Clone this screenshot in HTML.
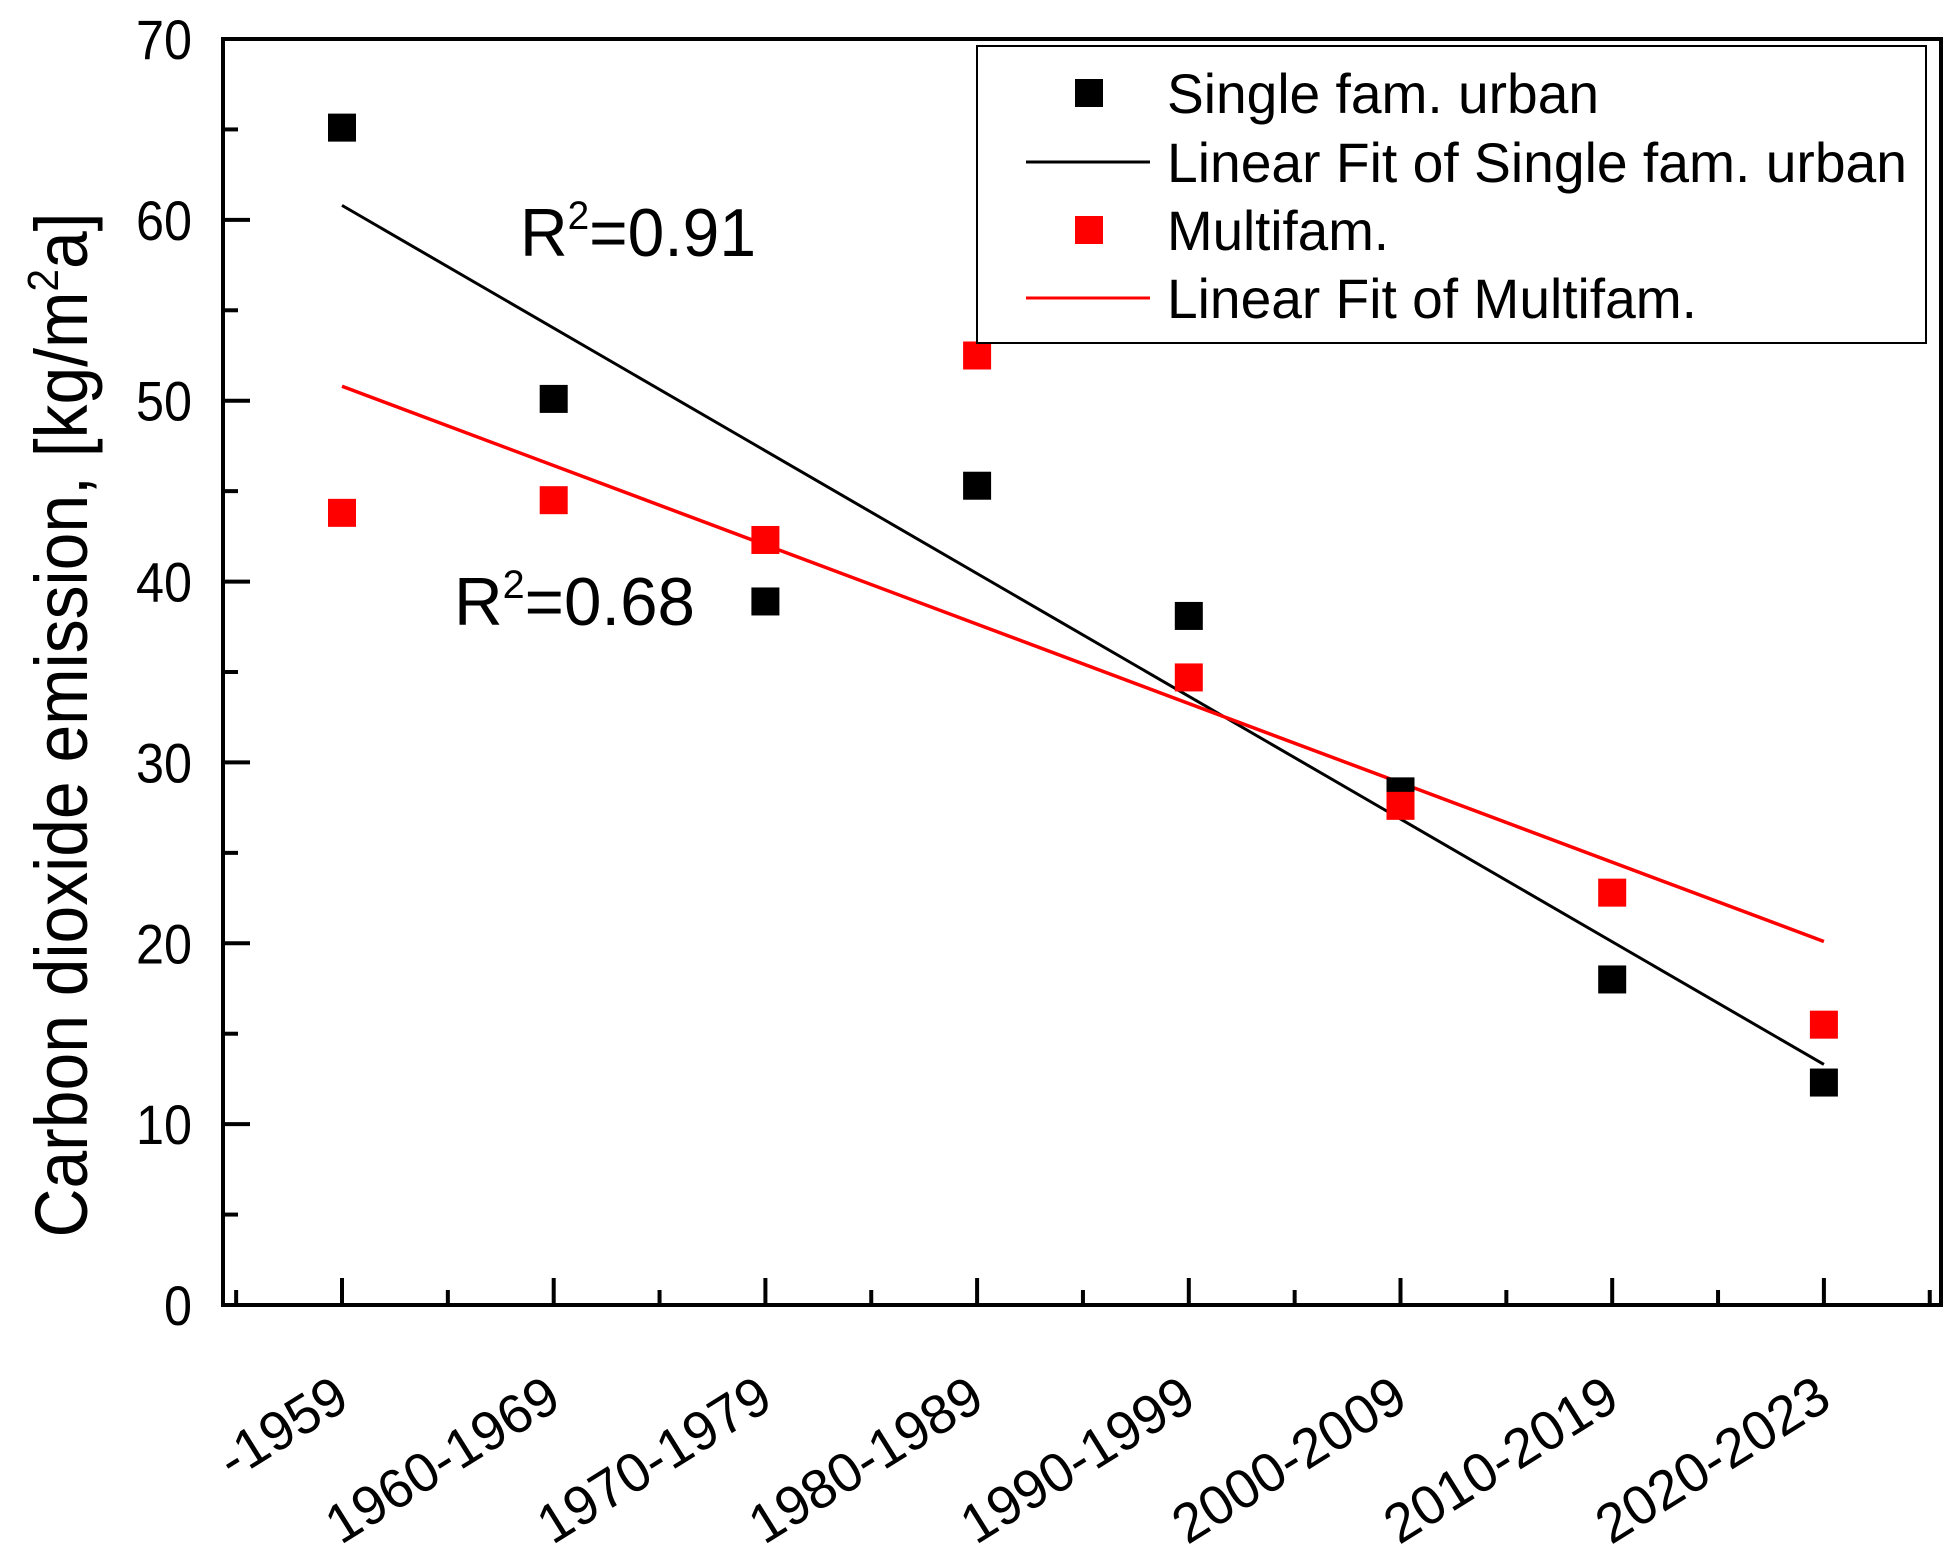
<!DOCTYPE html>
<html><head><meta charset="utf-8"><style>
html,body{margin:0;padding:0;background:#fff;}
svg{display:block;font-family:"Liberation Sans",Arial,sans-serif;}
</style></head><body>
<svg id="chart" width="1960" height="1551" viewBox="0 0 1960 1551" xmlns="http://www.w3.org/2000/svg">
<g id="plot"></g>
</svg>
<script>
const categories = ["-1959","1960-1969","1970-1979","1980-1989","1990-1999","2000-2009","2010-2019","2020-2023"];
const singleFam = [65.1, 50.1, 38.9, 45.3, 38.1, 28.4, 18.0, 12.3];
const multiFam = [43.8, 44.5, 42.3, 52.5, 34.7, 27.6, 22.8, 15.5];
const singleFit = [60.8, 13.3];
const multiFit = [50.8, 20.1];
const yTicks = [0, 10, 20, 30, 40, 50, 60, 70];

const NS = "http://www.w3.org/2000/svg";
const g = document.getElementById("plot");
const X0 = 223, X1 = 1941, Y0 = 1305, Y1 = 39;
function xPos(i){ return 342 + i * 211.7; }
function yPos(v){ return Y0 - v * (Y0 - Y1) / 70; }
function mk(tag, attrs, parent){
  const e = document.createElementNS(NS, tag);
  for (const k in attrs) e.setAttribute(k, attrs[k]);
  (parent || g).appendChild(e);
  return e;
}

let fr = mk("rect", {x:X0, y:Y1, width:X1-X0, height:Y0-Y1, fill:"none", stroke:"#000", "stroke-width":4});



yTicks.forEach(v => {
  const y = yPos(v);
  let t = mk("line", {x1:X0, x2:X0+27, y1:y, y2:y, stroke:"#000", "stroke-width":4});
  
  
  if (v < 70) {
    let m = mk("line", {x1:X0, x2:X0+15, y1:yPos(v+5), y2:yPos(v+5), stroke:"#000", "stroke-width":4});
    
    
  }
  let l = mk("text", {x:192, y:y+20, "text-anchor":"end", "font-size":56, textLength:(String(v).length*28), lengthAdjust:"spacingAndGlyphs"});
  l.textContent = v;
  
  
});

categories.forEach((c, i) => {
  const x = xPos(i);
  let t = mk("line", {x1:x, x2:x, y1:Y0, y2:Y0-27, stroke:"#000", "stroke-width":4});
  
  
  let l = mk("text", {x:0, y:0, "text-anchor":"end", "font-size":55, transform:`translate(${x+10},${1406}) rotate(-32)`});
  l.textContent = c;
  
  
});
for (let i = -0.5; i <= 7.5; i += 1) {
  let m = mk("line", {x1:xPos(i), x2:xPos(i), y1:Y0, y2:Y0-15, stroke:"#000", "stroke-width":4});
  
  
}

let fl1 = mk("line", {x1:xPos(0), y1:yPos(singleFit[0]), x2:xPos(7), y2:yPos(singleFit[1]), stroke:"#000", "stroke-width":3});


let fl2 = mk("line", {x1:xPos(0), y1:yPos(multiFit[0]), x2:xPos(7), y2:yPos(multiFit[1]), stroke:"#f00", "stroke-width":3.5});



const S = 28;
singleFam.forEach((v, i) => {
  let r = mk("rect", {x:xPos(i)-S/2, y:yPos(v)-S/2, width:S, height:S, fill:"#000"});
  
  
});
multiFam.forEach((v, i) => {
  let r = mk("rect", {x:xPos(i)-S/2, y:yPos(v)-S/2, width:S, height:S, fill:"#f00"});
  
  
});

function r2(x, y, val, len, name){
  let t = mk("text", {x:x, y:y, "font-size":68, textLength:len, lengthAdjust:"spacingAndGlyphs"});
  t.innerHTML = 'R<tspan dy="-27" font-size="40">2</tspan><tspan dy="27">=' + val + '</tspan>';
  
  
}
r2(520, 256, "0.91", 236, 'r2-single-fam-label');
r2(454, 625, "0.68", 241, 'r2-multifam-label');

let yt = mk("text", {x:0, y:0, "text-anchor":"middle", "font-size":74, textLength:1025, lengthAdjust:"spacingAndGlyphs", transform:"translate(87,725) rotate(-90)"});
yt.innerHTML = 'Carbon dioxide emission, [kg/m<tspan dy="-29" font-size="44">2</tspan><tspan dy="29">a]</tspan>';



const lg = mk("g", {});


let lb = mk("rect", {x:977, y:46, width:949, height:297, fill:"#fff", stroke:"#000", "stroke-width":2}, lg);


const legendLabels = ["Single fam. urban","Linear Fit of Single fam. urban","Multifam.","Linear Fit of Multifam."];
const legendLens = [432, 740, 222, 530];
const legendY = [93, 162, 230, 298];
legendLabels.forEach((txt, i) => {
  const y = legendY[i];
  const col = i < 2 ? "#000" : "#f00";
  let sym;
  if (i % 2 === 0) sym = mk("rect", {x:1075, y:y-14, width:28, height:28, fill:col}, lg);
  else sym = mk("line", {x1:1026, x2:1150, y1:y, y2:y, stroke:col, "stroke-width":3}, lg);
  
  
  let t = mk("text", {x:1167, y:y+20, "font-size":56, textLength:legendLens[i], lengthAdjust:"spacingAndGlyphs"}, lg);
  t.textContent = txt;
  
  
});
</script>
</body></html>
